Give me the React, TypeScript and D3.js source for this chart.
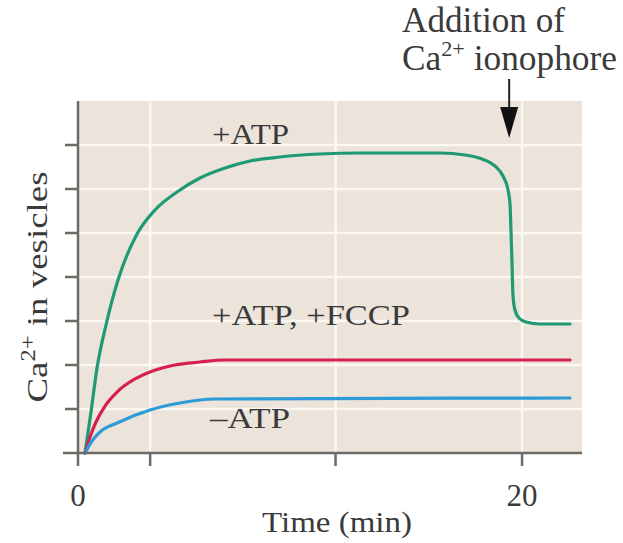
import React from 'react';
import * as d3 from 'd3';

// ---- data (time in min, Ca2+ in arbitrary units) ----
const atpTime = [0.315, 0.586, 0.856, 1.261, 1.802, 2.658, 3.468, 4.459, 5.495, 6.622, 7.748, 9.099, 10.9, 12.7, 16.31, 17.43, 18.2, 18.78, 19.14, 19.37, 19.46, 19.5, 19.55, 19.59, 19.68, 19.86, 20.18, 20.81, 22.16];
const atpValue = [0, 0.932, 1.932, 2.909, 3.932, 4.977, 5.523, 5.932, 6.25, 6.477, 6.636, 6.727, 6.795, 6.818, 6.818, 6.773, 6.682, 6.523, 6.295, 5.977, 5.636, 5.068, 4.273, 3.591, 3.25, 3.068, 2.977, 2.932, 2.932];

const fccpTime = [0.315, 0.541, 0.811, 1.216, 1.757, 2.568, 3.243, 4.369, 5.495, 6.622, 22.16];
const fccpValue = [0, 0.364, 0.705, 1.068, 1.386, 1.682, 1.841, 2.0, 2.068, 2.114, 2.114];

const noAtpTime = [0.315, 0.631, 0.991, 1.757, 3.243, 4.595, 6.171, 22.16];
const noAtpValue = [0, 0.273, 0.477, 0.682, 0.977, 1.136, 1.227, 1.25];

const xTicks = [0, 3.25, 11.6, 20];
const xTickLabels = ['0', '', '', '20'];
const yTicks = [0, 1, 2, 3, 4, 5, 6, 7];

const seriesNames = ['+ATP', '+ATP, +FCCP', '\u2013ATP'];
const ionophoreTime = 19.42;

const FONT = '"Liberation Serif", "Times New Roman", serif';
const TEXT = '#3a3a3a';
const AXIS = '#6e6a66';

export default function App() {
  const W = 623, H = 543;
  const x = d3.scaleLinear().domain([0, 22.7]).range([78, 582]);
  const y = d3.scaleLinear().domain([0, 8]).range([453, 101]);
  const line = d3.line<[number, number]>()
    .x(d => x(d[0]))
    .y(d => y(d[1]))
    .curve(d3.curveMonotoneX);

  const zip = (a: number[], b: number[]) => a.map((t, i) => [t, b[i]] as [number, number]);
  const series = [
    { data: zip(atpTime, atpValue), color: '#1f9a74' },
    { data: zip(fccpTime, fccpValue), color: '#d6214f' },
    { data: zip(noAtpTime, noAtpValue), color: '#2c9bd8' },
  ];

  const ax = x(ionophoreTime);
  const top = y(8);
  const bottom = y(0);
  const left = x(0);
  const adj = 'spacingAndGlyphs';

  return (
    <svg width={W} height={H} style={{ position: 'absolute', left: 0, top: 0, background: '#fff' }}>
      <rect x={left} y={top} width={x(22.7) - left} height={bottom - top} fill="#ece3da" />
      {/* grid */}
      {yTicks.slice(1).map(v => (
        <line key={'gy' + v} x1={left} x2={x(22.7)} y1={y(v)} y2={y(v)} stroke="#fbf8f4" strokeWidth={2.5} />
      ))}
      {xTicks.slice(1).map(v => (
        <line key={'gx' + v} x1={x(v)} x2={x(v)} y1={top} y2={bottom} stroke="#fbf8f4" strokeWidth={2.5} />
      ))}
      {/* series */}
      {series.map((s, i) => (
        <path key={i} d={line(s.data) || ''} fill="none" stroke={s.color} strokeWidth={3.2} strokeLinejoin="round" strokeLinecap="round" />
      ))}
      {/* axes */}
      <line x1={left} x2={left} y1={top} y2={bottom + 13} stroke={AXIS} strokeWidth={2.5} />
      <line x1={left - 15} x2={x(22.7)} y1={bottom} y2={bottom} stroke={AXIS} strokeWidth={2.5} />
      {yTicks.slice(1).map(v => (
        <line key={'ty' + v} x1={left - 13} x2={left} y1={y(v)} y2={y(v)} stroke={AXIS} strokeWidth={2.5} />
      ))}
      {xTicks.slice(1).map(v => (
        <line key={'tx' + v} x1={x(v)} x2={x(v)} y1={bottom} y2={bottom + 13} stroke={AXIS} strokeWidth={2.5} />
      ))}
      {xTicks.map((v, i) => xTickLabels[i] ? (
        <text key={'lx' + v} x={x(v)} y={506} textAnchor="middle" fontFamily={FONT} fontSize={31} fill={TEXT}>{xTickLabels[i]}</text>
      ) : null)}
      <text x={337} y={532} textAnchor="middle" fontFamily={FONT} fontSize={29} fill={TEXT} textLength={150} lengthAdjust={adj}>Time (min)</text>
      <text transform="translate(47,287) rotate(-90)" textAnchor="middle" fontFamily={FONT} fontSize={30} fill={TEXT} textLength={231} lengthAdjust={adj}>
        Ca<tspan fontSize={20} dy={-12}>2+</tspan><tspan dy={12}> in vesicles</tspan>
      </text>
      {/* series labels */}
      <text x={212} y={144} fontFamily={FONT} fontSize={30} fill={TEXT} textLength={77} lengthAdjust={adj}>{seriesNames[0]}</text>
      <text x={212} y={325} fontFamily={FONT} fontSize={30} fill={TEXT} textLength={198} lengthAdjust={adj}>{seriesNames[1]}</text>
      <text x={210} y={428} fontFamily={FONT} fontSize={30} fill={TEXT} textLength={80} lengthAdjust={adj}>{seriesNames[2]}</text>
      {/* annotation */}
      <text x={402} y={32} fontFamily={FONT} fontSize={35} fill={TEXT} textLength={163} lengthAdjust={adj}>Addition of</text>
      <text x={402} y={70} fontFamily={FONT} fontSize={35} fill={TEXT} textLength={215} lengthAdjust={adj}>
        Ca<tspan fontSize={22} dy={-14}>2+</tspan><tspan dy={14}> ionophore</tspan>
      </text>
      <line x1={ax} x2={ax} y1={79} y2={112} stroke="#222" strokeWidth={2} />
      <path d={`M${ax - 9},107 L${ax + 9},107 L${ax},138 Z`} fill="#111" />
    </svg>
  );
}
